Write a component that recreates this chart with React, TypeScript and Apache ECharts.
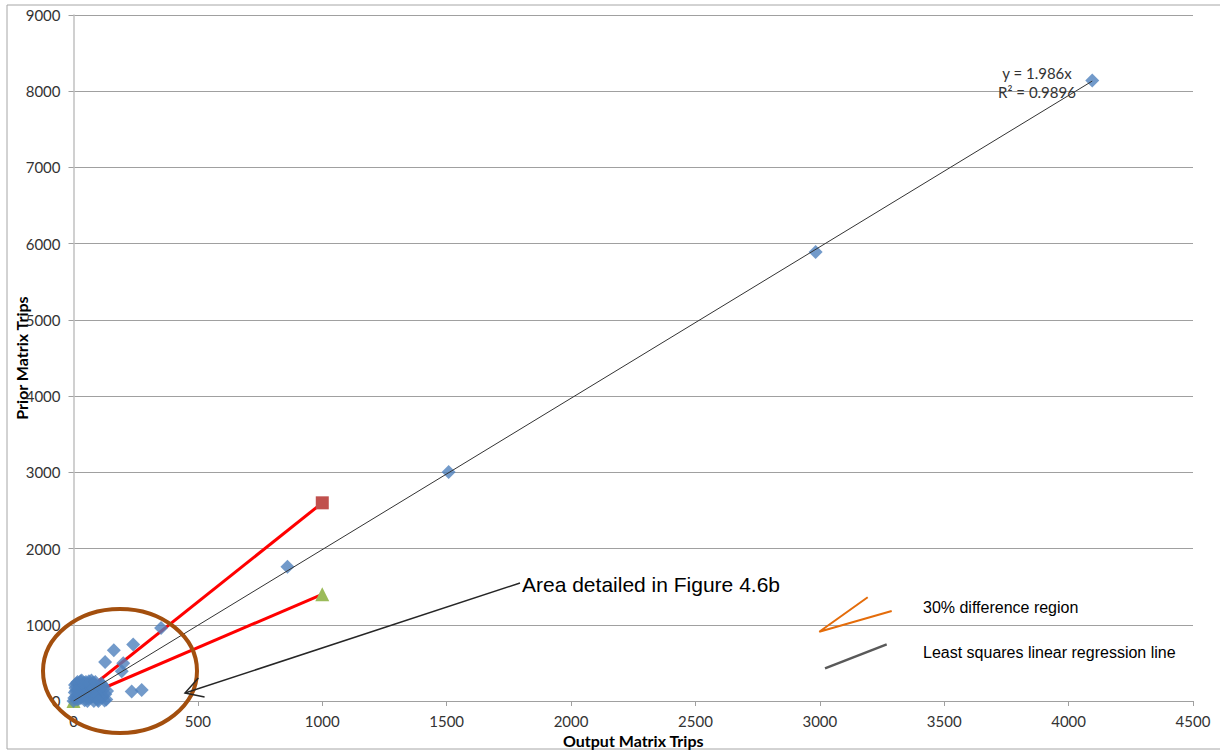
import React, { useEffect, useRef } from "react";
import * as echarts from "echarts";

// Blue diamonds: output matrix trips (x) vs prior matrix trips (y)
const outputTrips = [
  4095, 2983, 1508, 860, 352, 240, 162, 127, 200, 194, 234, 274,
  0, 3, 5, 8, 10, 12, 15, 18, 20, 25, 28, 30, 35, 38, 42, 45, 48, 52, 55, 60,
  62, 66, 70, 74, 78, 82, 85, 90, 92, 98, 102, 108, 112, 115, 120, 125, 128, 132, 135,
  6, 16, 24, 33, 44, 50, 58, 65, 72, 80, 88, 95, 104, 118, 40, 22, 56, 86, 100, 10,
];
const priorTrips = [
  8140, 5890, 3003, 1760, 958, 740, 665, 512, 495, 390, 125, 144,
  0, 40, 110, 170, 60, 230, 20, 140, 90, 200, 260, 40, 120, 180, 240, 10, 70, 150, 210, 30,
  260, 110, 180, 60, 240, 0, 140, 200, 80, 20, 170, 110, 230, 50, 150, 5, 90, 20, 130,
  210, 250, 150, 270, 200, 250, 120, 220, 270, 170, 250, 120, 60, 200, 80, 30, 0, 60, 0, 130,
];

// 30% difference region bounds
const boundX = [0, 1000];
const upperY = [0, 2600];
const lowerY = [0, 1400];

// Least squares regression line y = 1.986x
const trendX = [0, 4095];
const trendY = [0, 8133];

const xTicks = { min: 0, max: 4500, interval: 500 };
const yTicks = { min: 0, max: 9000, interval: 1000 };

const pairs = (xs: number[], ys: number[]) => xs.map((x, i) => [x, ys[i]]);

export default function App() {
  const ref = useRef<HTMLDivElement>(null);
  useEffect(() => {
    if (!ref.current) return;
    const chart = echarts.init(ref.current, null, { renderer: "svg" });
    const labelFont = { fontFamily: "Lato", fontSize: 15, color: "#333" };
    const nameFont = { fontFamily: "Lato", fontWeight: "bold", fontSize: 16, color: "#000" };
    const arrowTip = [185, 693];
    const arrowStart = [520, 583];
    const ang = Math.atan2(arrowStart[1] - arrowTip[1], arrowStart[0] - arrowTip[0]);
    const leg = 20;
    const a1 = ang + Math.PI / 6;
    const a2 = ang - Math.PI / 6;
    const endOnly = (xs: number[], ys: number[]) =>
      pairs(xs, ys).map((p, i) => (i === 0 ? { value: p, symbol: "none" } : { value: p }));
    chart.setOption({
      animation: false,
      backgroundColor: "#ffffff",
      grid: {
        left: 73.5,
        right: 27,
        top: 15,
        bottom: 51,
        containLabel: false,
        outerBoundsMode: "none",
      },
      xAxis: {
        type: "value",
        min: xTicks.min,
        max: xTicks.max,
        interval: xTicks.interval,
        name: "Output Matrix Trips",
        nameLocation: "middle",
        nameGap: 31,
        nameMoveOverlap: false,
        nameTextStyle: nameFont,
        axisLine: { show: true, lineStyle: { color: "#a0a0a0", width: 1 } },
        axisTick: { show: true, inside: false, length: 5, lineStyle: { color: "#a0a0a0" } },
        axisLabel: { ...labelFont, margin: 12, formatter: (v: number) => String(v) },
        splitLine: { show: false },
      },
      yAxis: {
        type: "value",
        min: yTicks.min,
        max: yTicks.max,
        interval: yTicks.interval,
        name: "Prior Matrix Trips",
        nameLocation: "middle",
        nameGap: 44,
        nameMoveOverlap: false,
        nameTextStyle: nameFont,
        axisLine: { show: true, lineStyle: { color: "#c0c0c0", width: 1.5 } },
        axisTick: { show: true, inside: false, length: 5, lineStyle: { color: "#a0a0a0" } },
        axisLabel: { ...labelFont, margin: 13, formatter: (v: number) => String(v) },
        splitLine: { show: true, lineStyle: { color: "#a0a0a0", width: 1 } },
      },
      series: [
        {
          name: "Upper bound",
          type: "line",
          data: endOnly(boundX, upperY),
          symbol: "rect",
          symbolSize: 13,
          itemStyle: { color: "#C0504D" },
          lineStyle: { color: "#ff0000", width: 3 },
          z: 2,
        },
        {
          name: "Lower bound",
          type: "line",
          data: pairs(boundX, lowerY),
          symbol: "triangle",
          symbolSize: 14,
          itemStyle: { color: "#9BBB59" },
          lineStyle: { color: "#ff0000", width: 3 },
          z: 2,
        },
        {
          name: "Trips",
          type: "scatter",
          data: pairs(outputTrips, priorTrips),
          symbol: "diamond",
          symbolSize: 14,
          itemStyle: { color: "#4F81BD" },
          z: 3,
        },
        {
          name: "Linear regression",
          type: "line",
          data: pairs(trendX, trendY),
          symbol: "none",
          lineStyle: { color: "#333333", width: 1 },
          z: 4,
        },
      ],
      graphic: [
        {
          type: "rect",
          shape: { x: 7, y: 5, width: 1240, height: 744 },
          style: { fill: "none", stroke: "#a6a6a6", lineWidth: 1 },
          silent: true,
          z: 0,
        },
        {
          type: "ellipse",
          shape: { cx: 120, cy: 671, rx: 77, ry: 62 },
          style: { fill: "none", stroke: "#A34F0E", lineWidth: 4 },
          z: 10,
        },
        {
          type: "line",
          shape: { x1: arrowStart[0], y1: arrowStart[1], x2: arrowTip[0], y2: arrowTip[1] },
          style: { stroke: "#262626", lineWidth: 1.5 },
          z: 11,
        },
        {
          type: "polyline",
          shape: {
            points: [
              [arrowTip[0] + leg * Math.cos(a1), arrowTip[1] + leg * Math.sin(a1)],
              arrowTip,
              [arrowTip[0] + leg * Math.cos(a2), arrowTip[1] + leg * Math.sin(a2)],
            ],
          },
          style: { fill: "none", stroke: "#262626", lineWidth: 1.5 },
          z: 11,
        },
        {
          type: "text",
          x: 522,
          y: 584,
          style: {
            text: "Area detailed in Figure 4.6b",
            fontFamily: "Liberation Sans",
            fontSize: 21,
            fill: "#000",
            verticalAlign: "middle",
            align: "left",
          },
          z: 11,
        },
        {
          type: "text",
          x: 1037,
          y: 73,
          style: {
            text: "y = 1.986x",
            fontFamily: "Lato",
            fontSize: 15,
            fill: "#333",
            align: "center",
            verticalAlign: "middle",
          },
          z: 11,
        },
        {
          type: "text",
          x: 1037,
          y: 92,
          style: {
            text: "R² = 0.9896",
            fontFamily: "Lato",
            fontSize: 15,
            fill: "#333",
            align: "center",
            verticalAlign: "middle",
          },
          z: 11,
        },
        {
          type: "polyline",
          shape: { points: [[867.7, 597.3], [819.3, 631.7], [891.7, 611]] },
          style: { fill: "none", stroke: "#E46C0A", lineWidth: 2 },
          z: 11,
        },
        {
          type: "line",
          shape: { x1: 825, y1: 668.3, x2: 886.7, y2: 644.3 },
          style: { stroke: "#595959", lineWidth: 2.5 },
          z: 11,
        },
        {
          type: "text",
          x: 923,
          y: 607,
          style: {
            text: "30% difference region",
            fontFamily: "Liberation Sans",
            fontSize: 16,
            fill: "#000",
            verticalAlign: "middle",
          },
          z: 11,
        },
        {
          type: "text",
          x: 923,
          y: 652,
          style: {
            text: "Least squares linear regression line",
            fontFamily: "Liberation Sans",
            fontSize: 16,
            fill: "#000",
            verticalAlign: "middle",
          },
          z: 11,
        },
      ],
    });
    return () => chart.dispose();
  }, []);
  return (
    <div
      ref={ref}
      style={{ position: "absolute", left: 0, top: 0, width: 1220, height: 752 }}
    />
  );
}
